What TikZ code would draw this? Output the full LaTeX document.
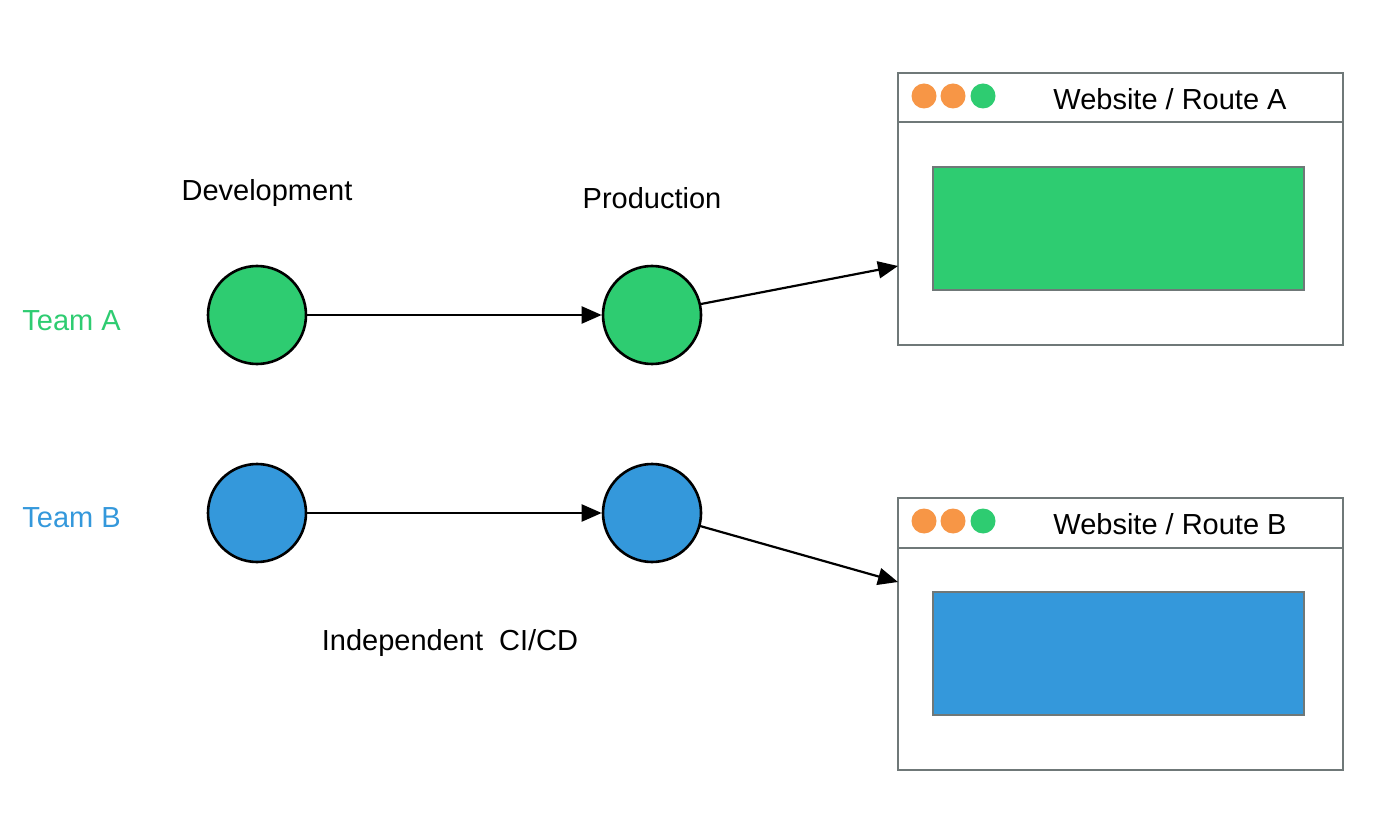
\documentclass[tikz,border=0pt]{standalone}
\usepackage{fontspec}
\setmainfont{Liberation Sans}
\usetikzlibrary{arrows.meta}
\definecolor{fgreen}{HTML}{2ECC71}
\definecolor{fblue}{HTML}{3498DB}
\definecolor{forange}{HTML}{F79646}
\definecolor{frame}{HTML}{6F7878}
\tikzset{
  stage/.style={circle, draw=black, line width=1.3pt, minimum size=49pt, inner sep=0pt},
  lbl/.style={font=\fontsize{14.5pt}{17pt}\selectfont, inner sep=0pt},
  flow/.style={draw=black, line width=1.1pt, -{Triangle[length=10pt,width=8.5pt]}},
  win/.style={draw=frame, line width=1pt},
  dot/.style={circle, minimum size=12.5pt, inner sep=0pt},
}
\begin{document}
\begin{tikzpicture}[x=0.5pt, y=-0.5pt]
\useasboundingbox (0,0) rectangle (1400,833);
% labels
\node[lbl, text=fgreen, anchor=west] (ta) at (22,321) {Team A};
\node[lbl, text=fblue, anchor=west] (tb) at (22,518) {Team B};
\node[lbl] (dev) at (267,193) {Development};
\node[lbl] (prod) at (652,198) {Production};
\node[lbl] (ci) at (450,643) {Independent\ \ CI/CD};
% stages
\node[stage, fill=fgreen] (da) at (257,315) {};
\node[stage, fill=fgreen] (pa) at (652,315) {};
\node[stage, fill=fblue] (db) at (257,513) {};
\node[stage, fill=fblue] (pb) at (652,513) {};
% browser A
\draw[win, fill=white] (898,73) rectangle (1343,345);
\draw[win] (898,122) -- (1343,122);
\node[dot, fill=forange] (a1) at (924,96) {};
\node[dot, fill=forange] (a2) at (953,96) {};
\node[dot, fill=fgreen] (a3) at (983,96) {};
\node[lbl] (wa) at (1170,99) {Website / Route A};
\draw[win, fill=fgreen] (933,167) rectangle (1304,290);
\coordinate (ea) at (898,266);
% browser B
\draw[win, fill=white] (898,498) rectangle (1343,770);
\draw[win] (898,548) -- (1343,548);
\node[dot, fill=forange] (b1) at (924,521) {};
\node[dot, fill=forange] (b2) at (953,521) {};
\node[dot, fill=fgreen] (b3) at (983,521) {};
\node[lbl] (wb) at (1170,524) {Website / Route B};
\draw[win, fill=fblue] (933,592) rectangle (1304,715);
\coordinate (eb) at (898,582);
% connectors
\coordinate (sa) at (701,304);
\coordinate (sb) at (700,526);
\draw[flow] (da) -- (pa);
\draw[flow] (db) -- (pb);
\draw[flow] (sa) -- (ea);
\draw[flow] (sb) -- (eb);
\end{tikzpicture}
\end{document}
